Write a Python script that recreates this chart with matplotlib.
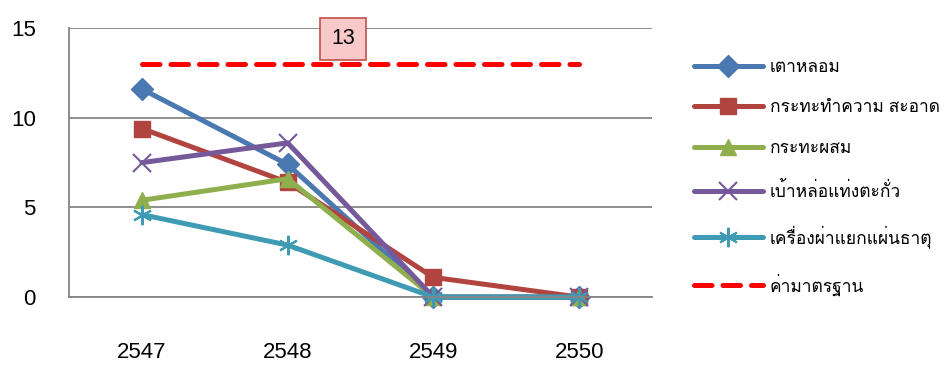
import matplotlib.pyplot as plt
from matplotlib import font_manager
from matplotlib.ft2font import FT2Font
import numpy as np

years = ['2547', '2548', '2549', '2550']
tao_lom = [11.6, 7.4, 0, 0]
kratha_clean = [9.4, 6.4, 1.1, 0]
kratha_mix = [5.4, 6.6, 0, 0]
bao_lor = [7.5, 8.6, 0, 0]
khrueang_pha = [4.6, 2.9, 0, 0]
standard = [13, 13, 13, 13]
standard_label = '13'

names = ['เตาหลอม', 'กระทะทำความ สะอาด', 'กระทะผสม', 'เบ้าหล่อแท่งตะกั่ว',
         'เครื่องผ่าแยกแผ่นธาตุ', 'ค่ามาตรฐาน']


def find_thai_font():
    for f in font_manager.fontManager.ttflist:
        try:
            if 0x0E40 in FT2Font(f.fname).get_charmap():
                return f.name
        except Exception:
            pass
    return 'DejaVu Sans'


thai = find_thai_font()
plt.rcParams['font.family'] = ['Liberation Sans', thai, 'DejaVu Sans']

fig = plt.figure(figsize=(9.51, 3.65), dpi=100)
ax = fig.add_axes([0.0726, 0.186, 0.6130, 0.737])

x = np.arange(len(years))
series = [
    (tao_lom, '#4A78B0', 'D', 11),
    (kratha_clean, '#B2443F', 's', 11),
    (kratha_mix, '#8FAF4F', '^', 11),
    (bao_lor, '#76599A', 'x', 13),
    (khrueang_pha, '#3E9BB3', (6, 2, 0), 14),
]
for (vals, c, m, ms), name in zip(series, names):
    ax.plot(x, vals, color=c, lw=3.6, marker=m, ms=ms, mew=1.5 if m in ('x', (6, 2, 0)) else 1,
            mfc=c, mec=c, label=name, solid_capstyle='round', clip_on=False)

ax.plot(x, standard, color='#FF0000', lw=3.6, ls=(0, (3.5, 2.2)), dash_capstyle='round',
        label=names[-1])
ax.text(1.38, 14.4, standard_label, fontsize=15.5, ha='center', va='center',
        bbox=dict(boxstyle='square,pad=0.5', fc='#F9C8C8', ec='#C0504D', lw=1.2))

ax.set_xlim(-0.5, 3.5)
ax.set_ylim(0, 15)
ax.set_yticks([0, 5, 10, 15])
ax.set_xticks(x)
ax.set_xticklabels(years)
ax.tick_params(length=0, labelsize=16)
ax.tick_params(axis='x', pad=32)
ax.tick_params(axis='y', pad=24)
for lbl in ax.get_yticklabels():
    lbl.set_horizontalalignment('right')
ax.grid(axis='y', color='#868686', lw=1.3)
ax.set_axisbelow(True)
for s in ['top', 'right']:
    ax.spines[s].set_visible(False)
ax.spines['left'].set_color('#868686')
ax.spines['bottom'].set_color('#868686')
ax.spines['left'].set_linewidth(1.3)
ax.spines['bottom'].set_linewidth(1.3)

fig.legend(loc='upper left', bbox_to_anchor=(0.722, 0.855), frameon=False, fontsize=12.5,
           handlelength=4.0, handletextpad=0.4, labelspacing=1.45, borderaxespad=0)

fig.savefig('out.png', dpi=100)
